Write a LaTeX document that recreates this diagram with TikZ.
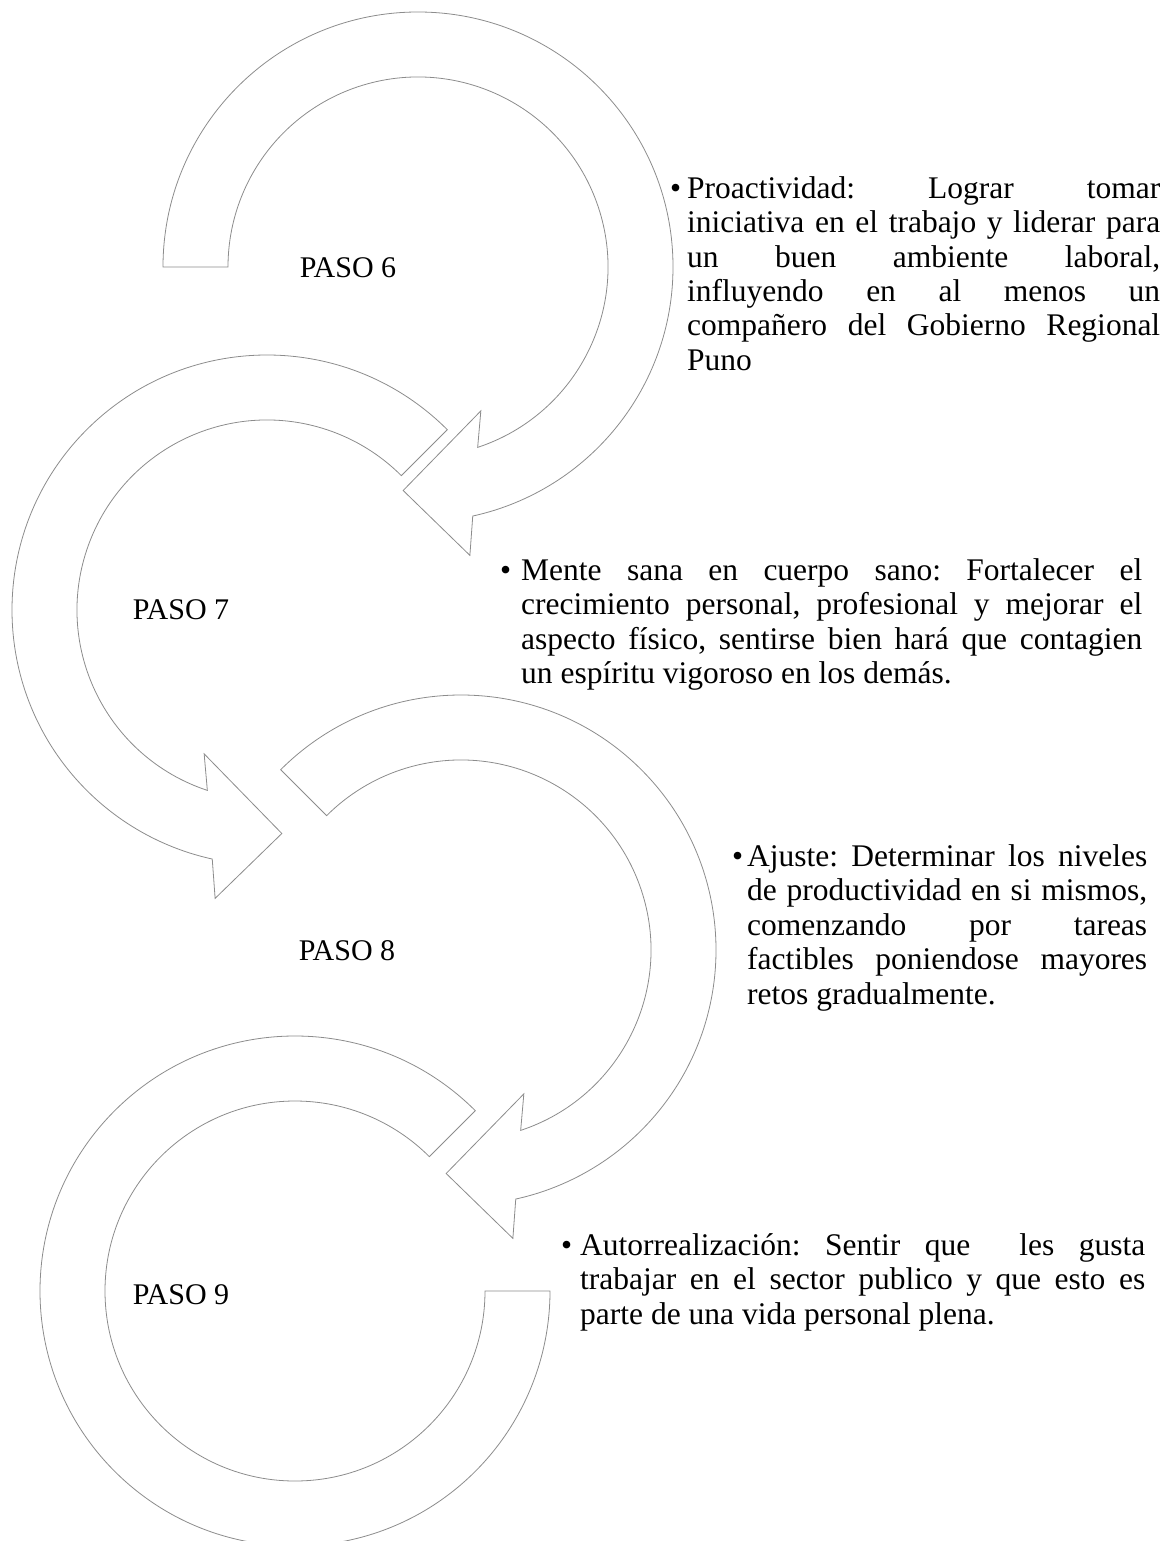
\documentclass[tikz,border=0pt]{standalone}
\usepackage{fontspec}
\setmainfont{Liberation Serif}
\usetikzlibrary{positioning}
\tolerance=10000
\hbadness=10000
\frenchspacing

\begin{document}
\begin{tikzpicture}[x=1pt, y=1pt,
  ring/.style={draw=black!45, line width=0.8pt, fill=white},
  paso/.style={font=\fontsize{30}{34}\selectfont, inner sep=0pt},
  bul/.style={font=\fontsize{31.5}{34.5}\selectfont, inner sep=0pt, anchor=base west},
  txt/.style={font=\fontsize{31.5}{34.5}\selectfont, inner sep=0pt, anchor=base west, align=justify}]
  \useasboundingbox (0,0) rectangle (1170,-1541);
  \clip (0,0) rectangle (1170,-1541);
  % ring of paso 6
  \begin{scope}[shift={(418,-267)}]
    \draw[ring] (180:255) arc[start angle=180, end angle=-77.6, radius=255]
      -- (-79.8:293) -- (-93.8:224) -- (-66.4:157) -- (-71.7:190)
      arc[start angle=-71.7, end angle=180, radius=190] -- cycle;
  \end{scope}
  % ring of paso 7 (turns the other way)
  \begin{scope}[shift={(267,-610)}, xscale=-1]
    \draw[ring] (135:255) arc[start angle=135, end angle=-77.6, radius=255]
      -- (-79.8:293) -- (-93.8:224) -- (-66.4:157) -- (-71.7:190)
      arc[start angle=-71.7, end angle=135, radius=190] -- cycle;
  \end{scope}
  % ring of paso 8
  \begin{scope}[shift={(461,-950)}]
    \draw[ring] (135:255) arc[start angle=135, end angle=-77.6, radius=255]
      -- (-79.8:293) -- (-93.8:224) -- (-66.4:157) -- (-71.7:190)
      arc[start angle=-71.7, end angle=135, radius=190] -- cycle;
  \end{scope}
  % ring of paso 9, no head
  \begin{scope}[shift={(295,-1291)}]
    \draw[ring] (45:255) arc[start angle=45, end angle=360, radius=255]
      -- (0:190) arc[start angle=360, end angle=45, radius=190] -- cycle;
  \end{scope}
  % step labels
  \node[paso] (p6) at (348,-268) {PASO 6};
  \node[paso] (p7) at (181,-610) {PASO 7};
  \node[paso] (p8) at (347,-951) {PASO 8};
  \node[paso] (p9) at (181,-1295) {PASO 9};
  % paso 6 text
  \node[bul] (b6) at (670,-198) {\textbullet};
  \node[txt, text width=473pt] (t6) at (687,-198) {Proactividad: Lograr tomar\linebreak
    iniciativa en el trabajo y liderar para\linebreak un buen ambiente laboral,\linebreak
    influyendo en al menos un\linebreak compañero del Gobierno Regional\linebreak Puno};
  % paso 7 text
  \node[bul] (b7) at (500,-580) {\textbullet};
  \node[txt, text width=621pt] (t7) at (521,-580) {Mente sana en cuerpo sano: Fortalecer el\linebreak
    crecimiento personal, profesional y mejorar el\linebreak
    aspecto físico, sentirse bien hará que contagien\linebreak
    un espíritu vigoroso en los demás.};
  % paso 8 text
  \node[bul] (b8) at (732,-866) {\textbullet};
  \node[txt, text width=400pt] (t8) at (747,-866) {Ajuste: Determinar los niveles\linebreak
    de productividad en si mismos,\linebreak comenzando por tareas\linebreak
    factibles poniendose mayores\linebreak retos gradualmente.};
  % paso 9 text
  \node[bul] (b9) at (561,-1255) {\textbullet};
  \node[txt, text width=565pt] (t9) at (580,-1255) {Autorrealización: Sentir que~ les gusta\linebreak
    trabajar en el sector publico y que esto es\linebreak parte de una vida personal plena.};
\end{tikzpicture}
\end{document}
